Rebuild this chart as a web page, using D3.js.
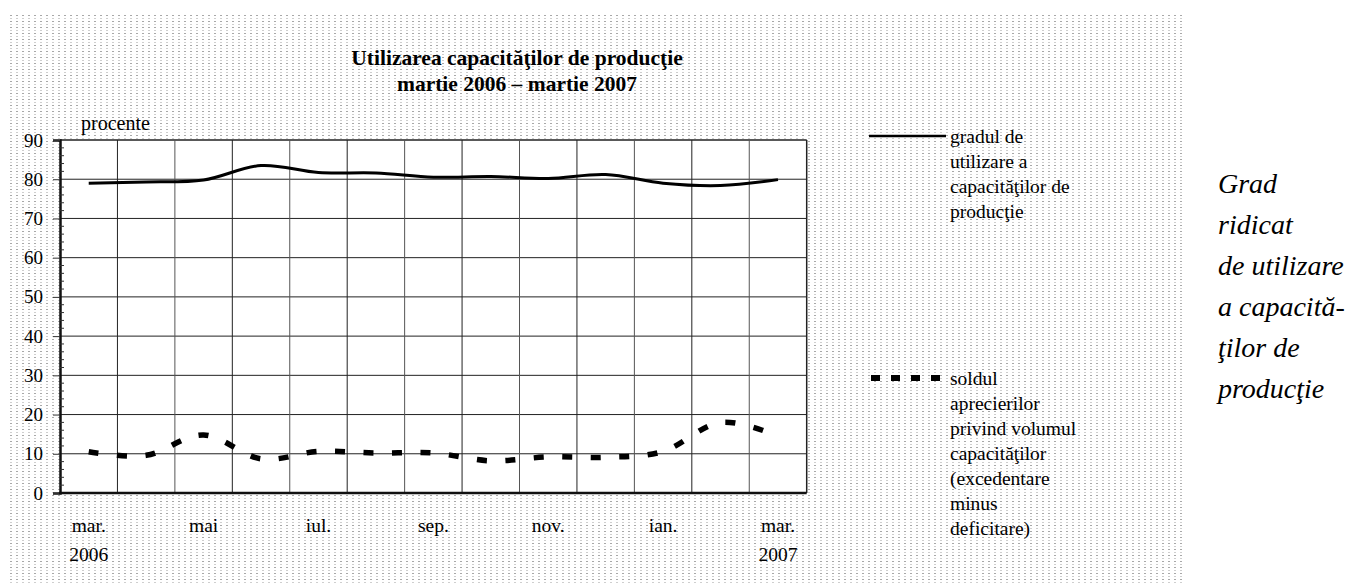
<!DOCTYPE html>
<html>
<head>
<meta charset="utf-8">
<script src="https://cdn.jsdelivr.net/npm/d3@7"></script>
<style>
  body { margin: 0; background: #fff; }
  svg text { font-family: "Liberation Serif", "Times New Roman", serif; fill: #000; }
</style>
</head>
<body>
<div id="chart"></div>
<script>
// DATA =========================================
const months = ["mar.", "apr.", "mai", "iun.", "iul.", "aug.", "sep.", "oct.", "nov.", "dec.", "ian.", "feb.", "mar."];
const tickLabels = ["mar.", "", "mai", "", "iul.", "", "sep.", "", "nov.", "", "ian.", "", "mar."];
const yearLabels = ["2006", "", "", "", "", "", "", "", "", "", "", "", "2007"];
const utilizare = [79.0, 79.3, 79.8, 83.5, 81.7, 81.6, 80.5, 80.7, 80.2, 81.2, 79.0, 78.4, 79.9];
const sold = [10.5, 9.6, 14.8, 8.7, 10.6, 10.2, 10.2, 8.2, 9.2, 9.1, 10.6, 18.0, 14.5];
const yTicks = [0, 10, 20, 30, 40, 50, 60, 70, 80, 90];

const titleLines = ["Utilizarea capacităţilor de producţie", "martie 2006 – martie 2007"];
const legend1 = ["gradul de", "utilizare a", "capacităţilor de", "producţie"];
const legend2 = ["soldul", "aprecierilor", "privind volumul", "capacităţilor", "(excedentare", "minus", "deficitare)"];
const sideNote = ["Grad", "ridicat", "de utilizare", "a capacită-", "ţilor de", "producţie"];

const width = 1348, height = 585;
const plot = { left: 60, right: 806.7, top: 140, bottom: 493 };

const svg = d3.select("#chart").append("svg")
  .attr("width", width)
  .attr("height", height);

// dotted background ------------------------
const defs = svg.append("defs");
const pat = defs.append("pattern")
  .attr("id", "dots")
  .attr("patternUnits", "userSpaceOnUse")
  .attr("x", 10).attr("y", 15)
  .attr("width", 6).attr("height", 6);
pat.append("rect").attr("x", 0).attr("y", 0).attr("width", 2).attr("height", 1).attr("fill", "#a8a8a8");
pat.append("rect").attr("x", 0).attr("y", 3).attr("width", 2).attr("height", 1).attr("fill", "#cfcfcf");

svg.append("rect")
  .attr("x", 10).attr("y", 15)
  .attr("width", 1173).attr("height", height - 15)
  .attr("fill", "url(#dots)");

svg.append("rect")
  .attr("x", plot.left).attr("y", plot.top)
  .attr("width", plot.right - plot.left).attr("height", plot.bottom - plot.top)
  .attr("fill", "#fff");

// SCALES =======================================
const xScale = d3.scaleBand()
  .domain(months.map((d, i) => i))
  .range([plot.left, plot.right])
  .padding(0);

const yScale = d3.scaleLinear()
  .domain([0, 90])
  .range([plot.bottom, plot.top]);

// GRID =========================================
const grid = svg.append("g");

grid.selectAll("line.h")
  .data(yTicks.filter(d => d > 0))
  .join("line")
  .attr("class", "h")
  .attr("x1", plot.left).attr("x2", plot.right)
  .attr("y1", d => yScale(d)).attr("y2", d => yScale(d))
  .attr("stroke", "#222")
  .attr("stroke-width", d => d === 90 ? 1.5 : 1);

grid.selectAll("line.v")
  .data(months.map((d, i) => i).slice(1))
  .join("line")
  .attr("class", "v")
  .attr("x1", d => xScale(d)).attr("x2", d => xScale(d))
  .attr("y1", plot.top).attr("y2", plot.bottom)
  .attr("stroke", (d, i) => i % 2 ? "#555" : "#222")
  .attr("stroke-width", 1);

// right border
svg.append("line")
  .attr("x1", plot.right).attr("x2", plot.right)
  .attr("y1", plot.top).attr("y2", plot.bottom)
  .attr("stroke", "#222").attr("stroke-width", 1.5);

// AXES =========================================
const yAxis = svg.append("g")
  .attr("transform", `translate(${plot.left},0)`)
  .call(d3.axisLeft(yScale).tickValues(yTicks).tickSize(7).tickPadding(10))
  .call(g => g.select(".domain").attr("stroke", "#111").attr("stroke-width", 2.5));

yAxis.selectAll(".tick line").attr("stroke", "#333");
yAxis.selectAll(".tick text")
  .style("font-family", "'Liberation Serif', serif")
  .style("font-size", "19px")
  .attr("fill", "#000");

// minor ticks, inside
svg.append("g")
  .selectAll("line")
  .data(d3.range(0, 91, 2).filter(d => d % 10 !== 0))
  .join("line")
  .attr("x1", plot.left).attr("x2", plot.left + 4)
  .attr("y1", d => yScale(d)).attr("y2", d => yScale(d))
  .attr("stroke", "#333");

// bottom axis line
svg.append("line")
  .attr("x1", plot.left - 1).attr("x2", plot.right)
  .attr("y1", plot.bottom).attr("y2", plot.bottom)
  .attr("stroke", "#111").attr("stroke-width", 2.5);

// x labels
const xl = svg.append("g");
xl.selectAll("text.m")
  .data(tickLabels)
  .join("text")
  .attr("class", "m")
  .attr("x", (d, i) => xScale(i) + xScale.bandwidth() / 2)
  .attr("y", 532)
  .attr("text-anchor", "middle")
  .style("font-size", "19.5px")
  .text(d => d);

xl.selectAll("text.y")
  .data(yearLabels)
  .join("text")
  .attr("class", "y")
  .attr("x", (d, i) => xScale(i) + xScale.bandwidth() / 2)
  .attr("y", 561)
  .attr("text-anchor", "middle")
  .style("font-size", "19.5px")
  .text(d => d);

svg.append("text")
  .attr("x", 81).attr("y", 130)
  .style("font-size", "20px")
  .text("procente");

// LINES ========================================
const lineGen = d3.line()
  .x((d, i) => xScale(i) + xScale.bandwidth() / 2)
  .y(d => yScale(d))
  .curve(d3.curveCardinal.tension(0));

svg.append("path")
  .datum(utilizare)
  .attr("d", lineGen)
  .attr("fill", "none")
  .attr("stroke", "#000")
  .attr("stroke-width", 3);

svg.append("path")
  .datum(sold)
  .attr("d", lineGen)
  .attr("fill", "none")
  .attr("stroke", "#000")
  .attr("stroke-width", 5.5)
  .attr("stroke-dasharray", "10,18.5");

// TITLE ========================================
svg.append("g").selectAll("text")
  .data(titleLines)
  .join("text")
  .attr("x", 517)
  .attr("y", (d, i) => 65 + i * 26)
  .attr("text-anchor", "middle")
  .style("font-size", "21.5px")
  .style("font-weight", "bold")
  .text(d => d);

// LEGEND =======================================
svg.append("line")
  .attr("x1", 869).attr("x2", 946)
  .attr("y1", 136).attr("y2", 136)
  .attr("stroke", "#000").attr("stroke-width", 2.5);

svg.append("g").selectAll("text")
  .data(legend1)
  .join("text")
  .attr("x", 950)
  .attr("y", (d, i) => 143 + i * 25)
  .style("font-size", "19.5px")
  .text(d => d);

svg.append("line")
  .attr("x1", 871).attr("x2", 941)
  .attr("y1", 378).attr("y2", 378)
  .attr("stroke", "#000").attr("stroke-width", 6)
  .attr("stroke-dasharray", "9,11");

svg.append("g").selectAll("text")
  .data(legend2)
  .join("text")
  .attr("x", 950)
  .attr("y", (d, i) => 385 + i * 25)
  .style("font-size", "19.5px")
  .text(d => d);

// side note ----------------------------------
svg.append("g").selectAll("text")
  .data(sideNote)
  .join("text")
  .attr("x", 1218)
  .attr("y", (d, i) => 193 + i * 41)
  .style("font-size", "28px")
  .style("font-style", "italic")
  .text(d => d);
</script>
</body>
</html>
